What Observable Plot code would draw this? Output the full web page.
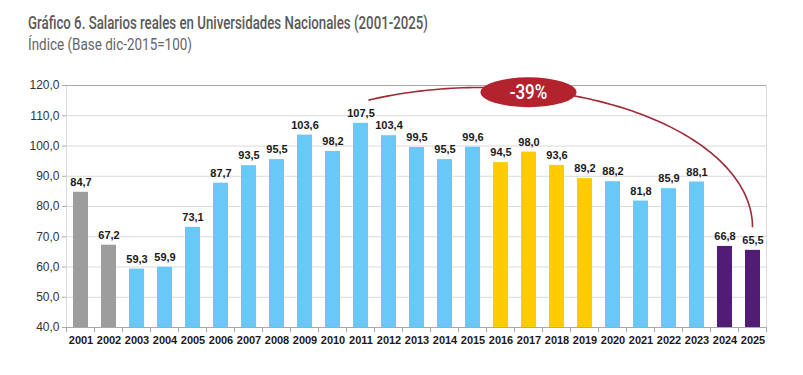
<!DOCTYPE html>
<html>
<head>
<meta charset="utf-8">
<script src="https://cdn.jsdelivr.net/npm/d3@7"></script>
<script src="https://cdn.jsdelivr.net/npm/@observablehq/plot@0.6"></script>
<style>
  html, body { margin: 0; padding: 0; background: #fff; }
  #wrap { position: relative; width: 803px; height: 375px; overflow: hidden; }
  .head { position: absolute; left: 28px; font-family: "Roboto", "Liberation Sans", sans-serif; color: #595959; white-space: nowrap; transform-origin: 0 0; }
  #title { top: 12px; font-size: 18px; line-height: 22px; font-weight: 500; }
  #subtitle { top: 33px; font-size: 17px; line-height: 22px; font-weight: 400; color: #666; }
  #chart { position: absolute; left: 0; top: 60px; }
</style>
</head>
<body>
<div id="wrap">
  <div id="title" class="head">Gráfico 6. Salarios reales en Universidades Nacionales (2001-2025)</div>
  <div id="subtitle" class="head">Índice (Base dic-2015=100)</div>
  <div id="chart"></div>
</div>
<script>
const years = ["2001","2002","2003","2004","2005","2006","2007","2008","2009","2010","2011","2012","2013","2014","2015","2016","2017","2018","2019","2020","2021","2022","2023","2024","2025"];
const values = [84.7, 67.2, 59.3, 59.9, 73.1, 87.7, 93.5, 95.5, 103.6, 98.2, 107.5, 103.4, 99.5, 95.5, 99.6, 94.5, 98.0, 93.6, 89.2, 88.2, 81.8, 85.9, 88.1, 66.8, 65.5];
const groups = ["gris","gris","celeste","celeste","celeste","celeste","celeste","celeste","celeste","celeste","celeste","celeste","celeste","celeste","celeste","amarillo","amarillo","amarillo","amarillo","celeste","celeste","celeste","celeste","violeta","violeta"];
const groupColors = {gris: "#9d9d9d", celeste: "#68c9f8", amarillo: "#ffcc00", violeta: "#531c74"};
const yTicks = [40, 50, 60, 70, 80, 90, 100, 110, 120];
const yDomain = [40, 120];
// annotation
const annotFrom = "2011", annotTo = "2025", annotLabel = "-39%", annotAt = "2017";

// condense the heading text to the reference's narrow width
function fitWidth(id, w) {
  const el = document.getElementById(id);
  const r = el.getBoundingClientRect().width;
  el.style.transform = `scaleX(${w / r})`;
}
fitWidth("title", 400);
fitWidth("subtitle", 164);

const fmt = v => d3.format(".1f")(v).replace(".", ",");
const data = years.map((year, i) => ({year, value: values[i], color: groupColors[groups[i]]}));

const plot = Plot.plot({
  width: 803,
  height: 315,
  marginTop: 25,
  marginBottom: 48,
  marginLeft: 66,
  marginRight: 37,
  style: {fontFamily: "'Liberation Sans', Arial, sans-serif", background: "white", overflow: "visible"},
  x: {domain: years, paddingInner: 0.48, paddingOuter: 0.24, label: null},
  y: {domain: yDomain, label: null},
  color: {type: "identity"},
  marks: [
    Plot.gridY(yTicks, {stroke: "#d9d9d9", strokeOpacity: 1}),
    Plot.frame({stroke: "#d9d9d9"}),
    Plot.ruleY([120], {stroke: "#a9a9a9"}),
    Plot.barY(data, {x: "year", y1: yDomain[0], y2: "value", fill: "color"}),
    Plot.ruleY([40], {stroke: "#a9a9a9"}),
    Plot.text(data, {x: "year", y: "value", text: d => fmt(d.value), dy: -10, fontWeight: "bold", fontSize: 11, fill: "#1a1a1a"}),
    Plot.axisY(yTicks, {tickFormat: fmt, tickSize: 4, tickPadding: 3, fontSize: 12, stroke: "#a9a9a9", fill: "#333", label: null}),
    Plot.axisX({tickSize: 0, tickPadding: 9, fontSize: 11, fontWeight: "bold", fill: "#1a1a1a", label: null})
  ]
});
document.getElementById("chart").appendChild(plot);

// Annotation using the plot's own scales
const sx = plot.scale("x"), sy = plot.scale("y");
const svg = d3.select(plot);
const step = sx.step, bw = sx.bandwidth;
const cxOf = yr => sx.apply(yr) + bw / 2;
const y0 = sy.apply(yDomain[0]);

// boundary ticks under x axis
const g0 = svg.append("g").attr("stroke", "#a9a9a9");
years.forEach((yr) => {
  const bx = sx.apply(yr) - (step - bw) / 2;
  g0.append("line").attr("x1", bx).attr("x2", bx).attr("y1", y0).attr("y2", y0 + 5);
});
{
  const bx = sx.apply(years[years.length - 1]) + bw + (step - bw) / 2;
  g0.append("line").attr("x1", bx).attr("x2", bx).attr("y1", y0).attr("y2", y0 + 5);
}

// arc (quarter-ellipse) from above 2011 to above 2025
const xs = cxOf(annotFrom) + 8, ys = sy.apply(115);
const xe = cxOf(annotTo), ye = sy.apply(73);
const yTop = sy.apply(119.2);
const ry = ye - yTop;
const k = Math.sqrt(1 - Math.pow((ye - ys) / ry, 2));
const rx = (xe - xs) / (1 + k);
const ecx = xe - rx, ecy = ye;
const aStart = Math.atan2(-(ecy - ys) / ry, (xs - ecx) / rx);
const pts = d3.range(0, 101).map(t => {
  const a = aStart + (0 - aStart) * t / 100;
  return [ecx + rx * Math.cos(a), ecy + ry * Math.sin(a)];
});
svg.append("path").attr("d", d3.line()(pts)).attr("fill", "none").attr("stroke", "#9e2a35").attr("stroke-width", 1.6);

const ex = cxOf(annotAt), ey = sy.apply(117.6);
svg.append("ellipse").attr("cx", ex).attr("cy", ey).attr("rx", 48).attr("ry", 15).attr("fill", "#b3232e");
svg.append("text").attr("x", ex).attr("y", ey).attr("dy", "0.35em").attr("text-anchor", "middle")
  .attr("fill", "white").attr("font-weight", "500").attr("font-size", 20)
  .attr("font-family", "Roboto, 'Liberation Sans', sans-serif")
  .attr("transform", `translate(${ex},0) scale(0.85,1) translate(${-ex},0)`)
  .text(annotLabel);
</script>
</body>
</html>
